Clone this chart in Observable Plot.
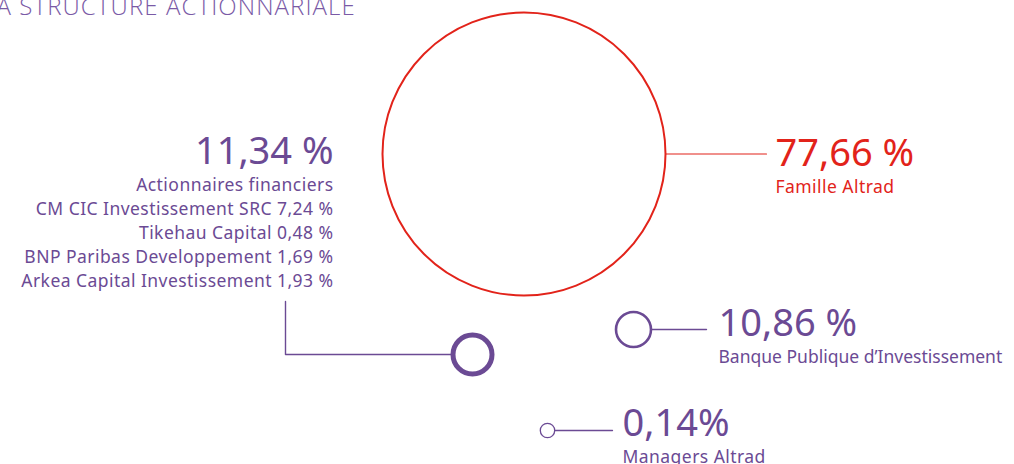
<!DOCTYPE html>
<html>
<head>
<meta charset="utf-8">
<script src="https://cdn.jsdelivr.net/npm/d3@7"></script>
<script src="https://cdn.jsdelivr.net/npm/@observablehq/plot@0.6"></script>
<style>
  html, body { margin: 0; padding: 0; background: #fff; overflow: hidden; }
  #wrap { position: relative; width: 1014px; height: 464px; overflow: hidden; }
  #title { position: absolute; left: -17px; top: -6px; font-family: "Open Sans", sans-serif; font-weight: 300;
           font-size: 24px; line-height: 24px; color: #7a5aa6; white-space: nowrap; letter-spacing: 1.1px; }
  #chart { position: absolute; left: 0; top: 0; }
  #chart .sub-wide text { letter-spacing: 0.45px; }
  #chart .sub-tight text { letter-spacing: 0px; }
</style>
</head>
<body>
<div id="wrap">
  <div id="chart"></div>
  <div id="title">LA STRUCTURE ACTIONNARIALE</div>
</div>
<script>
// ---- data ----
const groups = ["Famille Altrad", "Actionnaires financiers", "Banque Publique d\u2019Investissement", "Managers Altrad"];
const shares = [77.66, 11.34, 10.86, 0.14];
const shareLabels = ["77,66 %", "11,34 %", "10,86 %", "0,14%"];
const financialHolders = ["CM CIC Investissement SRC", "Tikehau Capital", "BNP Paribas Developpement", "Arkea Capital Investissement"];
const financialShares = [7.24, 0.48, 1.69, 1.93];

// ---- layout / style (pixels) ----
const bubbleX = [523.5, 472, 633, 547];
const bubbleY = [153.5, 354, 329, 430];
const leaderEndX = [766, 285, 706, 612];
const leaderEndY = [153.5, 301, 329, 430];
const labelX = [775, 333, 718, 622];
const labelY = [165, 163, 335, 435];
const labelAnchor = ["start", "end", "start", "start"];
const subSpacing = ["wide", "wide", "tight", "wide"];
const colors = ["#e2231a", "#6b4a94", "#6b4a94", "#6b4a94"];
const ringWidth = [2, 5, 2.6, 1.3];
const leaderWidth = [1.1, 1.4, 1.4, 1.3];

const fmt = v => v.toFixed(2).replace(".", ",") + " %";

const rows = groups.map((g, i) => {
  const sub = i === 1
    ? [g, ...financialHolders.map((h, j) => `${h} ${fmt(financialShares[j])}`)].join("\n")
    : g;
  return {group: g, share: shares[i], label: shareLabels[i], sub,
          x: bubbleX[i], y: bubbleY[i], lx: labelX[i], ly: labelY[i],
          anchor: labelAnchor[i], spacing: subSpacing[i],
          color: colors[i], sw: ringWidth[i], lw: leaderWidth[i]};
});

// leader lines: from bubble centre to label (financial one has an elbow)
const leaders = [];
rows.forEach((r, i) => {
  leaders.push({g: r.group, x: r.x, y: r.y, color: r.color, lw: r.lw});
  if (i === 1) leaders.push({g: r.group, x: leaderEndX[i], y: r.y, color: r.color, lw: r.lw});
  leaders.push({g: r.group, x: leaderEndX[i], y: leaderEndY[i], color: r.color, lw: r.lw});
});

const sorted = shares.map((s, i) => i).sort((a, b) => shares[a] - shares[b]);
const rDomain = sorted.map(i => shares[i]);
const rRange = [7.2, 17.5, 19.5, 141.5];

const labelMarks = [];
for (const anchor of ["start", "end"]) {
  labelMarks.push(Plot.text(rows, {filter: d => d.anchor === anchor, x: "lx", y: "ly", text: "label", fill: "color",
                   textAnchor: anchor, lineAnchor: "bottom", fontSize: 38}));
  for (const sp of ["wide", "tight"]) {
    labelMarks.push(Plot.text(rows, {filter: d => d.anchor === anchor && d.spacing === sp, x: "lx", y: "ly", dy: 10.5,
                   text: "sub", fill: "color", textAnchor: anchor, lineAnchor: "top", fontSize: 17.5,
                   lineHeight: 1.37, className: "sub-" + sp}));
  }
}

const chart = Plot.plot({
  width: 1014,
  height: 464,
  margin: 0,
  x: {type: "identity"},
  y: {type: "identity"},
  r: {type: "linear", domain: rDomain, range: rRange},
  style: {fontFamily: "'Noto Sans', sans-serif", background: "transparent"},
  marks: [
    Plot.line(leaders, {x: "x", y: "y", z: "g", stroke: "color", strokeWidth: "lw", curve: "linear"}),
    Plot.dot(rows, {x: "x", y: "y", r: "share", fill: "white", stroke: "color", strokeWidth: "sw"}),
    ...labelMarks
  ]
});
document.getElementById("chart").appendChild(chart);
</script>
</body>
</html>
